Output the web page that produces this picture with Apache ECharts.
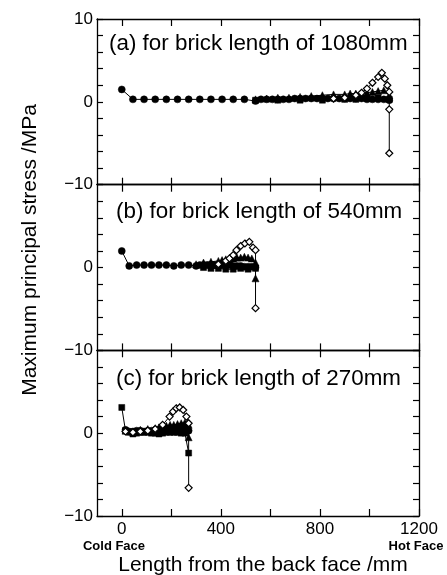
<!DOCTYPE html>
<html>
<head>
<meta charset="utf-8">
<script src="https://cdn.jsdelivr.net/npm/echarts@6/dist/echarts.min.js"></script>
<style>
html,body{margin:0;padding:0;background:#fff;}
#chart{width:447px;height:575px;}
</style>
</head>
<body>
<div id="chart"></div>
<script>
// ---------- data ----------
var panelTitles = ['(a) for brick length of 1080mm', '(b) for brick length of 540mm', '(c) for brick length of 270mm'];
var xTickValues = [0, 200, 400, 600, 800, 1000, 1200];
var xLabelValues = [0, 400, 800, 1200];

// panel (a) 1080 mm
var aCircX = [0,45,90,135,180,225,270,315,360,405,450,495,540,562,585,608,630,652,675,698,720,742,765,788,810,832,855,878,900,922,945,968,990,1012,1035,1058,1080];
var aCircY = [1.5,0.3,0.3,0.3,0.3,0.3,0.3,0.3,0.3,0.3,0.3,0.3,0.1,0.3,0.3,0.3,0.3,0.3,0.3,0.4,0.4,0.4,0.4,0.4,0.4,0.4,0.4,0.4,0.4,0.4,0.4,0.4,0.3,0.3,0.3,0.3,0.2];
var aTriX = [540,585,630,675,720,765,810,855,900,922,945,968,990,1012,1035,1058,1080];
var aTriY = [0.3,0.4,0.5,0.5,0.6,0.7,0.8,0.9,0.9,1.0,1.0,1.1,1.1,1.2,1.3,1.4,0.8];
var aDiaX = [855,900,945,968,990,1012,1035,1050,1062,1072,1080,1080,1080];
var aDiaY = [0.4,0.5,0.8,1.1,1.6,2.3,3.0,3.5,2.8,2.0,1.2,-0.9,-6.2];
var aSqX = [540,630,720,810,900,945,990,1035,1080];
var aSqY = [0.2,0.2,0.2,0.2,0.3,0.3,0.4,0.5,0.3];

// panel (b) 540 mm
var bCircX = [0,30,60,90,120,150,180,210,240,270,300,315,330,345,360,375,390,405,420,435,450,465,480,495,510,525,540];
var bCircY = [2.0,0.2,0.3,0.3,0.3,0.3,0.3,0.2,0.3,0.3,0.2,0.3,0.3,0.3,0.3,0.3,0.3,0.3,0.3,0.3,0.2,0.2,0.2,0.1,0.1,0.1,0.0];
var bTriX = [300,330,360,390,405,420,435,450,465,480,495,510,525,540,540];
var bTriY = [0.4,0.6,0.7,0.8,0.9,1.0,1.0,1.1,1.2,1.2,1.3,1.2,1.1,0.6,-1.3];
var bDiaX = [390,420,435,450,463,480,497,515,530,540,540];
var bDiaY = [0.4,0.8,1.1,1.5,2.1,2.6,2.9,3.1,2.4,2.1,-4.9];
var bSqX = [330,360,390,420,450,480,510,540];
var bSqY = [0.0,-0.1,-0.1,-0.2,-0.2,-0.1,-0.2,-0.1];

// panel (c) 270 mm
var cSqX = [0,15,30,45,60,75,90,105,120,135,150,165,180,195,210,225,240,255,270];
var cSqY = [3.1,0.3,0.1,-0.1,0.0,0.1,0.1,0.1,0.0,0.0,-0.1,0.0,0.1,0.1,0.1,0.1,0.0,0.0,-2.4];
var cCircX = [15,30,45,60,75,90,105,120,135,150,165,180,195,210,225,240,255,270];
var cCircY = [0.4,0.2,0.2,0.3,0.3,0.2,0.3,0.3,0.4,0.4,0.5,0.5,0.5,0.6,0.6,0.6,0.5,0.3];
var cTriX = [15,45,75,105,135,150,165,180,195,210,225,240,255,270,270];
var cTriY = [0.3,0.2,0.4,0.5,0.6,0.7,0.8,0.9,1.0,1.0,1.1,1.2,1.3,1.0,-0.5];
var cDiaX = [15,45,75,105,135,165,193,207,220,234,248,261,270,270];
var cDiaY = [0.2,0.1,0.2,0.3,0.5,1.0,2.0,2.6,3.0,3.1,2.8,2.0,1.2,-6.6];

// ---------- build ----------
function zip(xs, ys){ var r=[]; for(var i=0;i<xs.length;i++) r.push([xs[i], ys[i]]); return r; }

var FONT = '"Liberation Sans", Arial, Helvetica, sans-serif';
var gridTops = [19, 184.7, 350.3];
var gridH = 165.7;
var grids = [], xAxes = [], yAxes = [], series = [];

function minusFmt(v){ return String(v).replace('-', '\u2212'); }
function plainFmt(v){ return String(v); }

var panels = [
  {sq:[aSqX,aSqY], tri:[aTriX,aTriY], circ:[aCircX,aCircY], dia:[aDiaX,aDiaY]},
  {sq:[bSqX,bSqY], tri:[bTriX,bTriY], circ:[bCircX,bCircY], dia:[bDiaX,bDiaY]},
  {sq:[cSqX,cSqY], tri:[cTriX,cTriY], circ:[cCircX,cCircY], dia:[cDiaX,cDiaY]}
];

for (var i=0;i<3;i++){
  grids.push({left:97, width:322, top:gridTops[i], height:gridH, show:false});
  var baseX = {
    gridIndex:i, type:'value', min:-100, max:1200,
    axisLine:{show:true, onZero:false, lineStyle:{color:'#000', width:1.3}},
    axisTick:{show:true, inside:true, length:7, customValues:xTickValues, lineStyle:{color:'#000', width:1.2}},
    splitLine:{show:false}
  };
  xAxes.push(Object.assign({}, baseX, {position:'bottom',
    axisLabel:{show:i===2, customValues:xLabelValues, formatter:plainFmt, color:'#000', fontSize:17, fontFamily:FONT, margin:5}}));
  xAxes.push(Object.assign({}, baseX, {position:'top', axisLabel:{show:false}}));
  var baseY = {
    gridIndex:i, type:'value', min:-10, max:10, interval:2,
    axisLine:{show:true, onZero:false, lineStyle:{color:'#000', width:1.3}},
    axisTick:{show:true, inside:true, length:6, lineStyle:{color:'#000', width:1.2}},
    splitLine:{show:false}
  };
  yAxes.push(Object.assign({}, baseY, {position:'left',
    axisLabel:{show:true, customValues: i===0 ? [-10,0,10] : [-10,0], formatter:minusFmt,
      color:'#000', fontSize:17, fontFamily:FONT, margin:4}}));
  yAxes.push(Object.assign({}, baseY, {position:'right', axisLabel:{show:false}}));

  var p = panels[i];
  var common = {type:'line', xAxisIndex:2*i, yAxisIndex:2*i, symbolSize:7, silent:true,
    lineStyle:{color:'#000', width:1}};
  series.push(Object.assign({}, common, {data:zip(p.sq[0],p.sq[1]), symbol:'rect', symbolSize:6,
    itemStyle:{color:'#000', borderColor:'#000', borderWidth:0.5}}));
  series.push(Object.assign({}, common, {data:zip(p.tri[0],p.tri[1]), symbol:'triangle',
    itemStyle:{color:'#000', borderColor:'#000', borderWidth:0.5}}));
  series.push(Object.assign({}, common, {data:zip(p.circ[0],p.circ[1]), symbol:'circle',
    itemStyle:{color:'#000', borderColor:'#000', borderWidth:0.5}}));
  series.push(Object.assign({}, common, {data:zip(p.dia[0],p.dia[1]), symbol:'diamond', symbolSize:7,
    itemStyle:{color:'#fff', borderColor:'#000', borderWidth:1.2}}));
}

var titleX = [109, 116, 116];
var titleY = [45, 213, 380];
var graphics = [];
for (var k=0;k<3;k++){
  graphics.push({type:'text', left:titleX[k], top:titleY[k]-12, silent:true,
    style:{text:panelTitles[k], font:'22.4px ' + FONT, fill:'#000'}});
}
graphics.push({type:'text', x:30, y:250, rotation:Math.PI/2, silent:true,
  style:{text:'Maximum principal stress /MPa', font:'21px ' + FONT, fill:'#000', align:'center', verticalAlign:'middle'}});
graphics.push({type:'text', x:263, y:565, silent:true,
  style:{text:'Length from the back face /mm', font:'21px ' + FONT, fill:'#000', align:'center', verticalAlign:'middle'}});
graphics.push({type:'text', x:114, y:546, silent:true,
  style:{text:'Cold Face', font:'bold 13px ' + FONT, fill:'#000', align:'center', verticalAlign:'middle'}});
graphics.push({type:'text', x:416, y:546, silent:true,
  style:{text:'Hot Face', font:'bold 13px ' + FONT, fill:'#000', align:'center', verticalAlign:'middle'}});

var chart = echarts.init(document.getElementById('chart'), null, {renderer:'canvas'});
chart.setOption({
  animation:false,
  backgroundColor:'#fff',
  grid:grids, xAxis:xAxes, yAxis:yAxes, series:series, graphic:graphics
});
</script>
</body>
</html>
